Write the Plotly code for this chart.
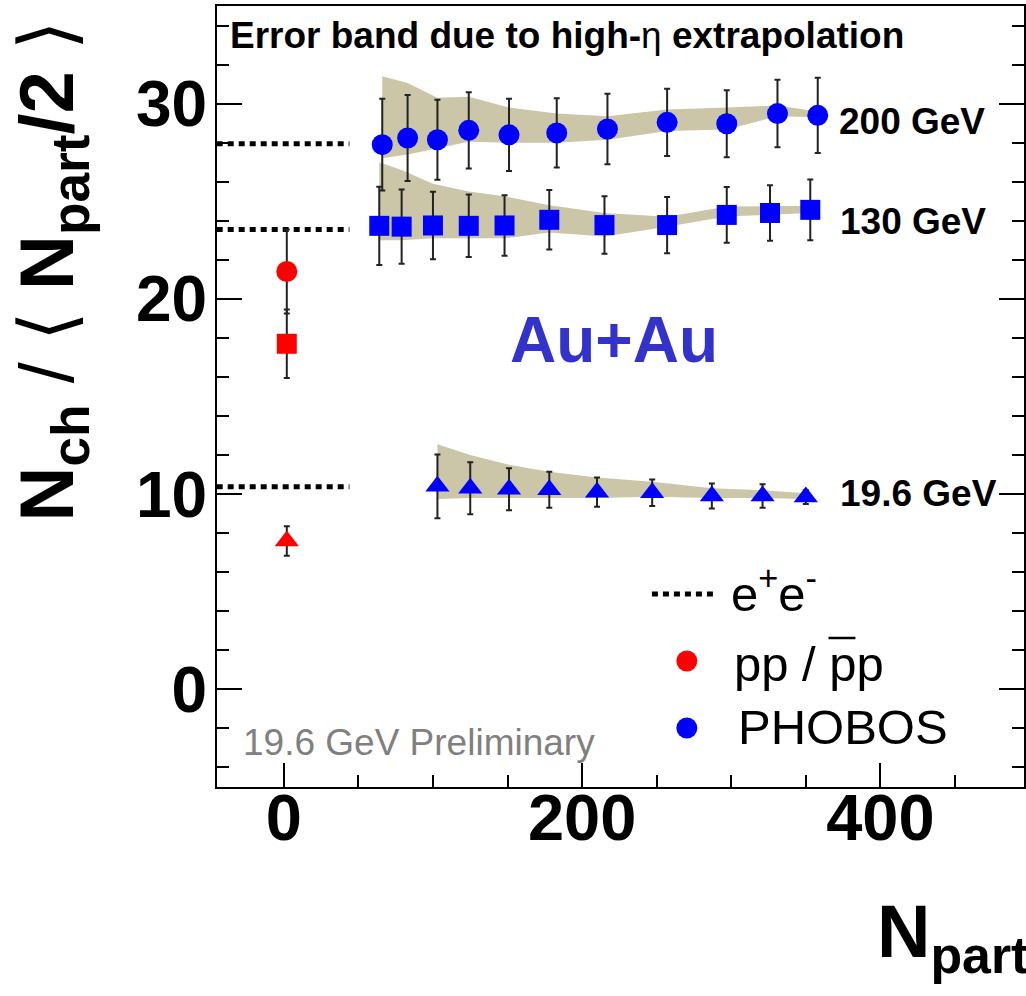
import plotly.graph_objects as go

# ---------------- data ----------------
npart_200 = [66, 83, 103, 124, 151, 183, 217, 257, 297, 331, 358]
nch_200 = [27.9, 28.24, 28.15, 28.63, 28.4, 28.5, 28.7, 29.04, 28.97, 29.49, 29.4]
err_200 = [2.35, 2.2, 2.05, 1.95, 1.85, 1.77, 1.8, 1.72, 1.72, 1.73, 1.93]
band_hi_200 = [31.4, 31.05, 30.3, 30.35, 29.8, 29.5, 29.35, 29.7, 29.8, 29.9, 29.6]
band_lo_200 = [27.2, 27.4, 27.7, 28.05, 28.0, 28.0, 28.15, 28.6, 28.67, 29.35, 29.3]

npart_130 = [64, 79, 100, 124, 148, 178, 215, 257, 297, 326, 353]
nch_130 = [23.74, 23.7, 23.76, 23.74, 23.76, 24.05, 23.78, 23.78, 24.3, 24.4, 24.56]
err_130 = [2.0, 1.9, 1.73, 1.6, 1.55, 1.52, 1.47, 1.44, 1.43, 1.42, 1.56]
band_hi_130 = [27.0, 26.6, 25.9, 25.5, 25.25, 24.8, 24.4, 24.2, 24.73, 24.77, 24.77]
band_lo_130 = [23.0, 23.0, 23.1, 23.1, 23.1, 23.4, 23.2, 23.7, 24.22, 24.3, 24.4]

npart_19 = [103, 125, 151, 178, 210, 247, 287, 321, 350]
nch_19 = [10.4, 10.3, 10.25, 10.22, 10.1, 10.07, 9.9, 9.9, 9.85]
err_19 = [1.63, 1.33, 1.07, 0.92, 0.75, 0.68, 0.64, 0.6, 0.35]
band_hi_19 = [12.56, 12.0, 11.5, 11.15, 10.85, 10.63, 10.3, 10.2, 10.05]
band_lo_19 = [9.75, 9.8, 9.8, 9.8, 9.8, 9.86, 9.8, 9.8, 9.75]

pp_npart = [2, 2, 2]
pp_nch = [21.4, 17.7, 7.6]
pp_err = [2.15, 1.75, 0.75]
pp_symbols = ["circle", "square", "triangle-up"]

ee_nch = [27.95, 23.55, 10.38]
ee_npart_span = [-45, 44]

energy_labels = ["200 GeV", "130 GeV", "19.6 GeV"]
x_tickvals = [0, 200, 400]
y_tickvals = [0, 10, 20, 30]

# ---------------- style ----------------
W, H = 1026, 996
ML, MR, MT, MB = 217, 0, 6, 209
PW, PH = W - ML - MR, H - MT - MB
FONT = "Liberation Sans, Arial, Helvetica, sans-serif"
BAND = "#ccc6a8"
BLUE = "rgb(0,0,255)"
RED = "rgb(255,0,0)"
ERRC = "#222222"


def px(x):
    return (x - ML) / PW


def py(y):
    return (H - MB - y) / PH


fig = go.Figure()

# error bands
for xs, hi, lo in [(npart_200, band_hi_200, band_lo_200),
                   (npart_130, band_hi_130, band_lo_130),
                   (npart_19, band_hi_19, band_lo_19)]:
    fig.add_trace(go.Scatter(
        x=xs + xs[::-1], y=hi + lo[::-1], mode="lines", fill="toself",
        fillcolor=BAND, line=dict(width=0, color=BAND), hoverinfo="skip",
        showlegend=False))

# e+e- dotted lines
for v in ee_nch:
    fig.add_trace(go.Scatter(
        x=ee_npart_span, y=[v, v], mode="lines",
        line=dict(color="black", width=5, dash="6px,5px"),
        showlegend=False, hoverinfo="skip"))


def err(arr):
    return dict(type="data", array=arr, visible=True, color=ERRC,
                thickness=2, width=3)


fig.add_trace(go.Scatter(x=npart_200, y=nch_200, mode="markers", opacity=1,
                         marker=dict(symbol="circle", size=21, color=BLUE, opacity=1),
                         error_y=err(err_200), showlegend=False))
fig.add_trace(go.Scatter(x=npart_130, y=nch_130, mode="markers", opacity=1,
                         marker=dict(symbol="square", size=20, color=BLUE, opacity=1),
                         error_y=err(err_130), showlegend=False))
fig.add_trace(go.Scatter(x=npart_19, y=nch_19, mode="markers", opacity=1,
                         marker=dict(symbol="triangle-up", size=21, color=BLUE, opacity=1),
                         error_y=err(err_19), showlegend=False))
fig.add_trace(go.Scatter(x=pp_npart, y=pp_nch, mode="markers", opacity=1,
                         marker=dict(symbol=pp_symbols, size=[21, 20, 21], color=RED,
                                     opacity=1, line=dict(width=0)),
                         error_y=err(pp_err), showlegend=False))

annotations = []


def txt(text, x, y, size, xanchor="left", yanchor="middle", color="black",
        weight="normal", angle=0):
    annotations.append(dict(
        text=text, x=px(x), y=py(y), xref="paper", yref="paper",
        xanchor=xanchor, yanchor=yanchor, showarrow=False, textangle=angle,
        font=dict(family=FONT, size=size, color=color, weight=weight)))


txt("<b>Error band due to high-</b>η<b> extrapolation</b>", 228, 35.5, 37)
txt(energy_labels[0], 839, 121.5, 37, weight="bold")
txt(energy_labels[1], 840, 221.5, 37, weight="bold")
txt(energy_labels[2], 840, 493.5, 37, weight="bold")
txt("Au+Au", 615, 340, 64, xanchor="center", color="#3333cc", weight="bold")
txt("19.6 GeV Preliminary", 241, 742, 37, color="#808080")

# legend
txt("e<sup>+</sup>e<sup>-</sup>", 730, 590, 49)
txt("pp / pp", 733, 664, 49)
txt("PHOBOS", 737, 727, 49)

# axis titles
txt("<b>N<sub>part</sub></b>", 877, 888, 74, yanchor="top")
txt("<b>N<sub>ch</sub></b> / ⟨<b> N<sub>part</sub>/2 </b>⟩", 52, 271, 76,
    xanchor="center", angle=-90)

shapes = [
    dict(type="line", xref="paper", yref="paper", x0=px(653), x1=px(717),
         y0=py(594), y1=py(594), line=dict(color="black", width=5, dash="6px,5px")),
    dict(type="circle", xref="paper", yref="paper", x0=px(677.5), x1=px(698.5),
         y0=py(650.5), y1=py(671.5), fillcolor=RED, line=dict(width=0)),
    dict(type="circle", xref="paper", yref="paper", x0=px(677.5), x1=px(698.5),
         y0=py(717.5), y1=py(738.5), fillcolor=BLUE, line=dict(width=0)),
    dict(type="line", xref="paper", yref="paper", x0=px(830), x1=px(857),
         y0=py(638), y1=py(638), line=dict(color="black", width=2.5)),
]

fig.update_layout(
    width=W, height=H,
    margin=dict(l=ML, r=MR, t=MT, b=MB, pad=0),
    paper_bgcolor="white", plot_bgcolor="white",
    showlegend=False,
    annotations=annotations,
    shapes=shapes,
    xaxis=dict(
        range=[-44.8, 496.3], showgrid=False, zeroline=False,
        showline=True, linecolor="black", linewidth=2, mirror=True,
        ticks="inside", ticklen=24, tickwidth=2, tickcolor="black",
        tickvals=x_tickvals, ticklabelstandoff=-27,
        tickfont=dict(family=FONT, size=65, color="black", weight="bold"),
        minor=dict(dtick=50, tick0=0, ticks="inside", ticklen=12,
                   tickwidth=1.5, tickcolor="black", showgrid=False),
    ),
    yaxis=dict(
        range=[-5, 35], showgrid=False, zeroline=False,
        showline=True, linecolor="black", linewidth=2, mirror="ticks",
        ticks="inside", ticklen=25, tickwidth=2, tickcolor="black",
        tickvals=y_tickvals, ticklabelstandoff=-5,
        tickfont=dict(family=FONT, size=64, color="black", weight="bold"),
        minor=dict(dtick=2, tick0=0, ticks="inside", ticklen=12,
                   tickwidth=1.5, tickcolor="black", showgrid=False),
    ),
)

fig.write_html("out.html")
